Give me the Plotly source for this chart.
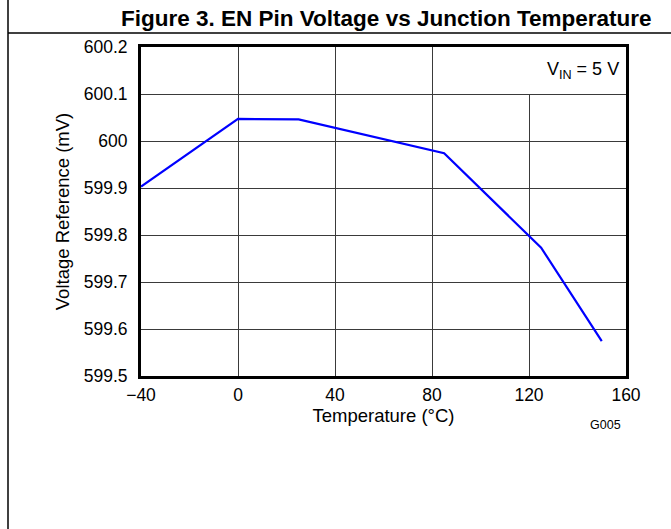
import plotly.graph_objects as go

temperature = [-40, 0, 25, 85, 125, 150]
voltage_ref = [599.903, 600.047, 600.046, 599.974, 599.773, 599.574]

x_ticks = [-40, 0, 40, 80, 120, 160]
x_tick_labels = ["\u221240", "0", "40", "80", "120", "160"]
y_ticks = [599.5, 599.6, 599.7, 599.8, 599.9, 600.0, 600.1, 600.2]
y_tick_labels = ["599.5", "599.6", "599.7", "599.8", "599.9", "600", "600.1", "600.2"]

W, H = 671, 529
L, R, T, B = 141, 45, 47, 153
pw, ph = W - L - R, H - T - B

def px_x(p):
    return (p - L) / pw

def px_y(p):
    return (H - B - p) / ph

font = "Liberation Sans, Arial, sans-serif"

fig = go.Figure()
fig.add_trace(go.Scatter(x=temperature, y=voltage_ref, mode="lines",
                         line=dict(color="#0000ff", width=2.2), showlegend=False,
                         cliponaxis=False))

fig.update_layout(
    width=W, height=H,
    margin=dict(l=L, r=R, t=T, b=B),
    paper_bgcolor="white", plot_bgcolor="white",
    font=dict(family=font, size=17, color="black"),
    xaxis=dict(range=[-40, 160], tickvals=x_ticks, ticktext=x_tick_labels,
               showgrid=True, gridcolor="#3a3a3a", gridwidth=1, zeroline=False,
               showline=True, linecolor="black", linewidth=3, mirror=True,
               ticks="", ticklabelstandoff=1, tickfont=dict(size=17.5),
               title=dict(text="Temperature (°C)", standoff=2, font=dict(size=18.5))),
    yaxis=dict(range=[599.5, 600.2], tickvals=y_ticks, ticktext=y_tick_labels,
               showgrid=True, gridcolor="#3a3a3a", gridwidth=1, zeroline=False,
               showline=True, linecolor="black", linewidth=3, mirror=True,
               ticks="", ticklabelstandoff=7, tickfont=dict(size=17.5),
               title=dict(text="Voltage Reference (mV)", standoff=10, font=dict(size=18.5))),
    shapes=[
        dict(type="rect", xref="x", yref="y", x0=105, x1=160, y0=600.1, y1=600.2,
             fillcolor="white", line=dict(width=0), layer="between"),
        dict(type="line", xref="paper", yref="paper", x0=px_x(8), x1=px_x(8),
             y0=px_y(0), y1=px_y(H), line=dict(color="black", width=1.5)),
        dict(type="line", xref="paper", yref="paper", x0=px_x(8), x1=px_x(W),
             y0=px_y(33), y1=px_y(33), line=dict(color="black", width=1.5)),
    ],
    annotations=[
        dict(text="<b>Figure 3. EN Pin Voltage vs Junction Temperature</b>",
             xref="paper", yref="paper", x=px_x(654), y=px_y(18),
             xanchor="right", yanchor="middle", showarrow=False,
             font=dict(size=22.5, family=font)),
        dict(text="V<sub>IN</sub> = 5 V", xref="paper", yref="paper",
             x=px_x(621), y=px_y(70), xanchor="right", yanchor="middle",
             showarrow=False, font=dict(size=18)),
        dict(text="G005", xref="paper", yref="paper",
             x=px_x(623), y=px_y(425), xanchor="right", yanchor="middle",
             showarrow=False, font=dict(size=12.5)),
    ],
)

fig.write_html("out.html", config={"displayModeBar": False},
               post_script="document.body.style.margin='0';")
